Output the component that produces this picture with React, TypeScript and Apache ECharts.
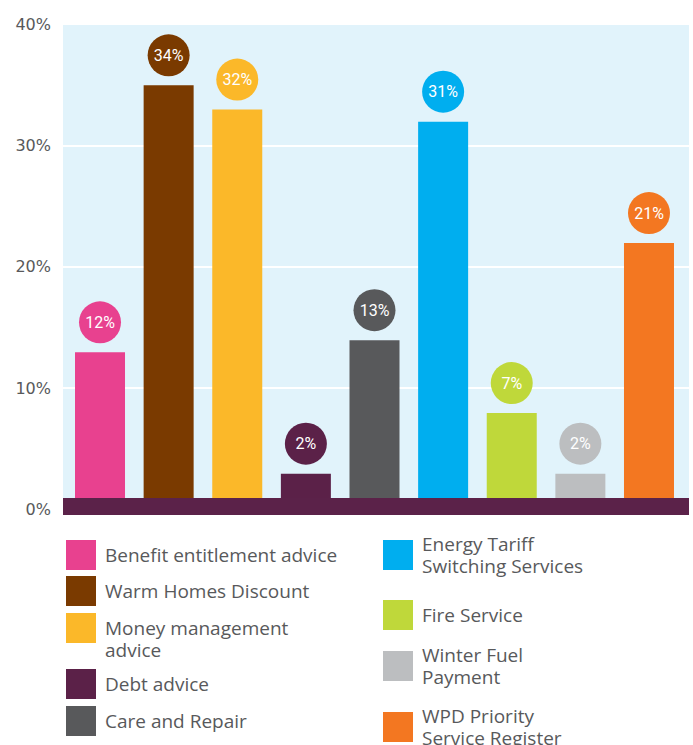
import React, { useEffect, useRef } from "react";
import * as echarts from "echarts";

const categories = [
  "Benefit entitlement advice",
  "Warm Homes Discount",
  "Money management advice",
  "Debt advice",
  "Care and Repair",
  "Energy Tariff Switching Services",
  "Fire Service",
  "Winter Fuel Payment",
  "WPD Priority Service Register",
];
const values = [12, 34, 32, 2, 13, 31, 7, 2, 21];
const colors = [
  "#e8418f",
  "#7a3a00",
  "#fbb829",
  "#5b2148",
  "#58595b",
  "#00aeef",
  "#bfd83a",
  "#bcbec0",
  "#f37721",
];
const yTicks = [0, 10, 20, 30, 40];

// legend label text (line breaks as in the picture)
const legendLabels = [
  "Benefit entitlement advice",
  "Warm Homes Discount",
  "\nMoney management\nadvice",
  "Debt advice",
  "Care and Repair",
  "Energy Tariff\nSwitching Services",
  "Fire Service",
  "Winter Fuel\nPayment",
  "WPD Priority\nService Register",
];
const legendPos: [number, number][] = [
  [66, 540],
  [66, 576],
  [66, 595],
  [66, 669],
  [66, 706],
  [383, 533],
  [383, 600],
  [383, 644],
  [383, 705],
];

export default function App() {
  const ref = useRef<HTMLDivElement>(null);
  useEffect(() => {
    if (!ref.current) return;
    const chart = echarts.init(ref.current, null, { renderer: "svg" });
    const textColor = "#58595b";
    const option: any = {
      animation: false,
      grid: [
        {
          left: 63,
          width: 626,
          top: 24,
          height: 485.5,
          show: true,
          backgroundColor: "#e1f3fb",
          borderWidth: 0,
        },
        { left: 65.7, width: 617.6, top: 24, height: 474 },
      ],
      xAxis: [
        { gridIndex: 0, type: "category", data: categories, show: false },
        { gridIndex: 1, type: "category", data: categories, show: false },
      ],
      yAxis: [
        {
          gridIndex: 0,
          type: "value",
          min: yTicks[0],
          max: yTicks[yTicks.length - 1],
          interval: 10,
          axisLine: { show: false },
          axisTick: { show: false },
          splitLine: { lineStyle: { color: "#ffffff", width: 2 } },
          axisLabel: {
            formatter: "{value}%",
            color: textColor,
            fontSize: 16,
            fontFamily: "DejaVu Sans",
            margin: 12,
          },
        },
        { gridIndex: 1, type: "value", min: 0, max: 39.05, show: false },
      ],
      legend: categories.map((name, i) => ({
        data: [name],
        left: legendPos[i][0],
        top: legendPos[i][1],
        orient: "vertical",
        padding: 0,
        itemGap: 0,
        itemWidth: 30,
        itemHeight: 30,
        icon: "rect",
        selectedMode: false,
        formatter: () => legendLabels[i],
        textStyle: {
          color: textColor,
          fontSize: 19,
          lineHeight: 22,
          fontFamily: "Open Sans",
          padding: [0, 0, 0, 4],
        },
      })),
      graphic: [
        {
          type: "rect",
          z: 5,
          shape: { x: 63, y: 498, width: 626, height: 17 },
          style: { fill: "#5b2249" },
        },
      ],
      series: categories.map((name, i) => ({
        name,
        type: "bar",
        xAxisIndex: 1,
        yAxisIndex: 1,
        barWidth: 50,
        barGap: "-100%",
        itemStyle: { color: colors[i] },
        data: categories.map((_, j) => (j === i ? values[i] : "-")),
        label: {
          show: true,
          position: "top",
          distance: 9,
          formatter: "{c}%",
          color: "#ffffff",
          fontSize: 16,
          fontFamily: "Roboto",
          backgroundColor: colors[i],
          borderRadius: 21,
          width: 42,
          height: 42,
          lineHeight: 42,
          align: "center",
        },
      })),
    };
    chart.setOption(option);
    return () => chart.dispose();
  }, []);
  return <div ref={ref} style={{ width: 693, height: 745, position: "absolute", left: 0, top: 0 }} />;
}
